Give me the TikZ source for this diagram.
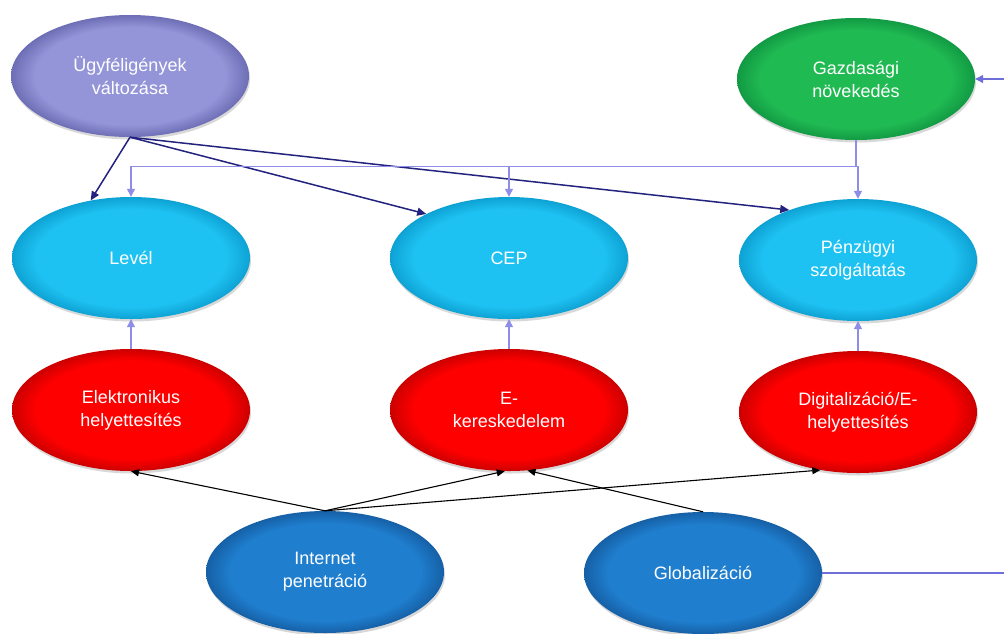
\documentclass[tikz,border=0pt]{standalone}
\usepackage{fontspec}
\setmainfont{Liberation Sans}
\usetikzlibrary{shapes.geometric,arrows.meta,shadows}
\definecolor{navyline}{HTML}{23237F}
\definecolor{busline}{HTML}{8E8EE8}
\definecolor{globline}{HTML}{6F6FDB}
\colorlet{elinner}{red}
\colorlet{elouter}{red}
\pgfdeclareradialshading[elinner,elouter]{elshade}{\pgfpoint{0bp}{0bp}}{color(0bp)=(elinner); color(20bp)=(elinner); color(25bp)=(elouter); color(50bp)=(elouter)}
\tikzset{
  el/.style={ellipse, minimum width=238pt, minimum height=122pt, inner sep=0pt,
    align=center, text=white, font=\fontsize{18}{23}\selectfont,
    shade, shading=elshade,
    drop shadow={opacity=0.3, shadow xshift=1pt, shadow yshift=-2.5pt}},
  elpurple/.style={/utils/exec={\definecolor{elinner}{HTML}{9494D8}\definecolor{elouter}{HTML}{6E6EB6}}, el},
  elgreen/.style={/utils/exec={\definecolor{elinner}{HTML}{20BA52}\definecolor{elouter}{HTML}{129A44}}, el},
  elcyan/.style={/utils/exec={\definecolor{elinner}{HTML}{1EC2F2}\definecolor{elouter}{HTML}{0EA2D4}}, el},
  elred/.style={/utils/exec={\definecolor{elinner}{HTML}{FF0000}\definecolor{elouter}{HTML}{CC0000}}, el},
  elblue/.style={/utils/exec={\definecolor{elinner}{HTML}{1F7ECE}\definecolor{elouter}{HTML}{1660A6}}, el},
  navyarr/.style={draw=navyline, line width=1.5pt, -{Triangle[width=8pt,length=9pt]}},
  busarr/.style={draw=busline, line width=1.2pt, -{Triangle[width=8pt,length=8pt]}},
  busline/.style={draw=busline, line width=1.2pt},
  blackarr/.style={draw=black, line width=1.1pt, -{Triangle[width=7pt,length=8pt]}},
  globarr/.style={draw=globline, line width=1.1pt, -{Triangle[width=8pt,length=8pt]}},
}
\begin{document}
\begin{tikzpicture}[x=1pt,y=-1pt]
\useasboundingbox (0,0) rectangle (1004,633);
\clip (0,0) rectangle (1004,633);
\fill[white] (0,0) rectangle (1004,633);

\node[elpurple] (ugy) at (130,76) {Ügyféligények\\változása};
\node[elgreen] (gazd) at (856,79) {Gazdasági\\növekedés};
\node[elcyan] (level) at (131,258) {Levél};
\node[elcyan] (cep) at (509,258) {CEP};
\node[elcyan] (penz) at (858,260) {Pénzügyi\\szolgáltatás};
\node[elred] (elek) at (131,410) {Elektronikus\\helyettesítés};
\node[elred] (eker) at (509,410) {E-\\kereskedelem};
\node[elred] (digit) at (858,412) {Digitalizáció/E-\\helyettesítés};
\node[elblue] (inet) at (325,572) {Internet\\penetráció};
\node[elblue] (glob) at (703,573) {Globalizáció};

% Ügyféligények -> service ellipses
\draw[navyarr] (ugy.south) -- (level.125);
\draw[navyarr] (ugy.south) -- (cep.152);
\draw[navyarr] (ugy.south) -- (penz.144);

% Gazdasági növekedés bus
\draw[busline] (gazd.south) -- ++(0,26) coordinate (bj);
\draw[busarr] (bj) -| (level.north);
\draw[busarr] (bj) -| (cep.north);
\draw[busarr] (bj) -| (penz.north);

% red -> cyan
\draw[busarr] (elek.north) -- (level.south);
\draw[busarr] (eker.north) -- (cep.south);
\draw[busarr] (digit.north) -- (penz.south);

% Internet, Globalizáció -> red
\draw[blackarr] (inet.north) -- (elek.south);
\draw[blackarr] (inet.north) -- (eker.-94);
\draw[blackarr] (inet.north) -- (digit.-123);
\draw[blackarr] (glob.north) -- (eker.-73);

% Globalizáció -> Gazdasági növekedés (routed outside the frame)
\coordinate (off) at (1016,573);
\draw[globarr] (glob.east) -- (off) |- (gazd.east);
\end{tikzpicture}
\end{document}
